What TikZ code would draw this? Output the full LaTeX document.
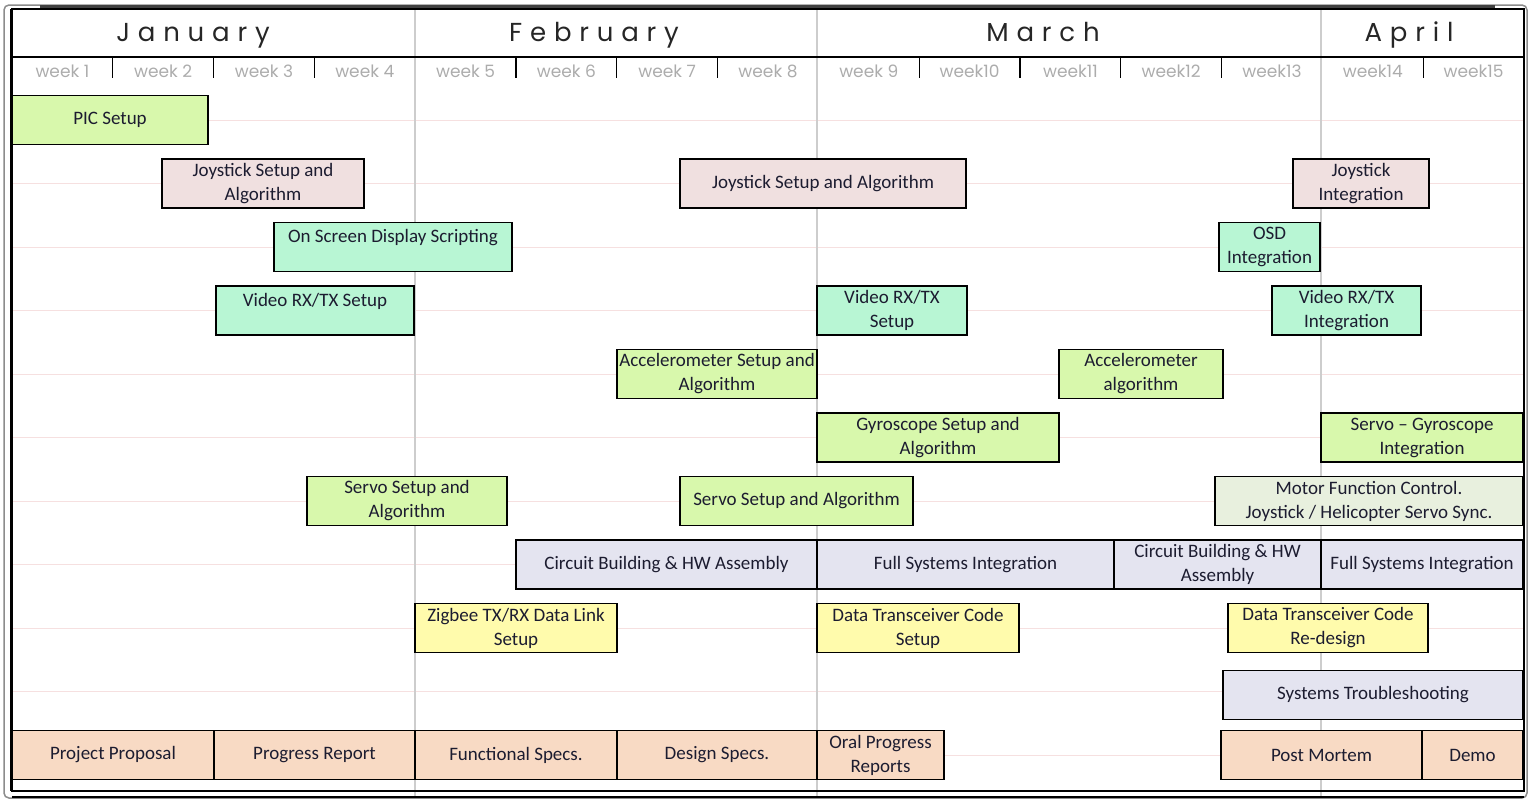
\documentclass[tikz,border=0pt]{standalone}
\usepackage{fontspec}
\setmainfont{Carlito}
\newfontfamily\monthfont[LetterSpace=30]{Poppins}
\newfontfamily\weekfont{Poppins}

\definecolor{boxgreen}{RGB}{216,248,172}
\definecolor{boxpink}{RGB}{240,224,224}
\definecolor{boxmint}{RGB}{184,246,212}
\definecolor{boxpale}{RGB}{232,240,222}
\definecolor{boxlav}{RGB}{228,228,240}
\definecolor{boxyellow}{RGB}{255,251,172}
\definecolor{boxpeach}{RGB}{248,218,196}
\definecolor{gridpink}{RGB}{246,224,224}
\definecolor{monthgray}{RGB}{205,205,205}
\definecolor{weekgray}{RGB}{172,172,172}
\definecolor{txtcol}{RGB}{28,28,48}

\tikzset{
  task/.style={draw, line width=1.3pt, inner sep=1pt, align=center, text=txtcol,
    font=\fontsize{19}{24}\selectfont, minimum height=49},
  toptext/.style={text height=10, text depth=19},
  month/.style={anchor=base, font=\monthfont\fontsize{26}{30}\selectfont, text=black!85},
  week/.style={font=\weekfont\fontsize{17}{20}\selectfont, text=weekgray},
  gridline/.style={gridpink, line width=1pt},
  monthline/.style={monthgray, line width=1.2pt},
}

% [options] name, colour, left, right, row, text
\newcommand{\taskbox}[7][]{%
  \node[task, #1, fill=#3, minimum width={#5-#4}] (#2) at ({(#4+#5)/2}, {\rowy+\rowh*#6}) {#7};}

\begin{document}
\begin{tikzpicture}[x=1pt, y=-1pt]
  % chart parameters
  \def\xzero {12};
  \def\weekw {100.8};
  \def\rowy {120};
  \def\rowh {63.5};
  % week labels
  \def\weeks {week 1,week 2,week 3,week 4,week 5,week 6,week 7,week 8,
              week 9,week10,week11,week12,week13,week14,week15};
  \useasboundingbox (0,0) rectangle (1531,803);

  % row lines and month lines
  \foreach \r in {0,...,10}
  {
    \draw[gridline] (\xzero, {\rowy+\rowh*\r}) -- (1524, {\rowy+\rowh*\r});
  }
  \foreach \x in {415,817,1321}
  {
    \draw[monthline] (\x,9) -- (\x,797);
  }

  % months
  \node[month] (jan) at (193,41) {January};
  \node[month] (feb) at (594,41) {February};
  \node[month] (mar) at (1043,41) {March};
  \node[month] (apr) at (1409,41) {April};

  % weeks
  \draw[line width=1.5pt] (\xzero,57) -- (1524,57);
  \foreach \k in {1,2,3,5,6,7,9,10,11,12,14}
  {
    \draw[line width=1.3pt] ({\xzero+\weekw*\k},58) -- ++(0,20);
  }
  \foreach \w [count=\i] in \weeks
  {
    \node[week] (w\i) at ({\xzero+\weekw*(\i-0.5)},71) {\w};
  }

  % tasks
  \taskbox{pic}{boxgreen}{12}{208}{0}{PIC Setup}
  \taskbox{joyA}{boxpink}{162}{364}{1}{Joystick Setup and\\Algorithm}
  \taskbox{joyB}{boxpink}{680}{966}{1}{Joystick Setup and Algorithm}
  \taskbox{joyC}{boxpink}{1293}{1429}{1}{Joystick\\Integration}
  \taskbox[toptext]{osdA}{boxmint}{274}{512}{2}{On Screen Display Scripting}
  \taskbox{osdB}{boxmint}{1219}{1320}{2}{OSD\\Integration}
  \taskbox[toptext]{vidA}{boxmint}{216}{414}{3}{Video RX/TX Setup}
  \taskbox{vidB}{boxmint}{817}{967}{3}{Video RX/TX\\Setup}
  \taskbox{vidC}{boxmint}{1272}{1421}{3}{Video RX/TX\\Integration}
  \taskbox{accA}{boxgreen}{617}{817}{4}{Accelerometer Setup and\\Algorithm}
  \taskbox{accB}{boxgreen}{1059}{1223}{4}{Accelerometer\\algorithm}
  \taskbox{gyro}{boxgreen}{817}{1059}{5}{Gyroscope Setup and\\Algorithm}
  \taskbox{servoGyro}{boxgreen}{1321}{1523}{5}{Servo -- Gyroscope\\Integration}
  \taskbox{servoA}{boxgreen}{307}{507}{6}{Servo Setup and\\Algorithm}
  \taskbox{servoB}{boxgreen}{680}{913}{6}{Servo Setup and Algorithm}
  \taskbox{motor}{boxpale}{1215}{1523}{6}{Motor Function Control.\\Joystick / Helicopter Servo Sync.}
  \taskbox{hwA}{boxlav}{516}{817}{7}{Circuit Building \& HW Assembly}
  \taskbox{fullA}{boxlav}{817}{1114}{7}{Full Systems Integration}
  \taskbox{hwB}{boxlav}{1114}{1321}{7}{Circuit Building \& HW\\Assembly}
  \taskbox{fullB}{boxlav}{1321}{1523}{7}{Full Systems Integration}
  \taskbox{zigbee}{boxyellow}{415}{617}{8}{Zigbee TX/RX Data Link\\Setup}
  \taskbox{dataA}{boxyellow}{817}{1019}{8}{Data Transceiver Code\\Setup}
  \taskbox{dataB}{boxyellow}{1228}{1428}{8}{Data Transceiver Code\\Re-design}
  \taskbox{trouble}{boxlav}{1223}{1523}{9.05}{Systems Troubleshooting}

  % deliverables
  \taskbox{proposal}{boxpeach}{12}{214}{10}{Project Proposal}
  \taskbox{progress}{boxpeach}{214}{415}{10}{Progress Report}
  \taskbox{funcspec}{boxpeach}{415}{617}{10}{Functional Specs.}
  \taskbox{designspec}{boxpeach}{617}{817}{10}{Design Specs.}
  \taskbox{oral}{boxpeach}{817}{944}{10}{Oral Progress\\Reports}
  \taskbox{mortem}{boxpeach}{1221}{1422}{10}{Post Mortem}
  \taskbox{demo}{boxpeach}{1422}{1523}{10}{Demo}

  % frame
  \draw[black!45, line width=1.5pt, rounded corners=5pt] (4,5) rectangle (1527,798);
  \draw[black!75, line width=3pt] (40,6) -- (1495,6);
  \draw[line width=1.5pt] (\xzero,797) -- (1524,797);
  \draw[line width=2.5pt] (\xzero,9) rectangle (1524,791);
  \draw[line width=2pt] (11,9) -- (11,791);
\end{tikzpicture}
\end{document}
